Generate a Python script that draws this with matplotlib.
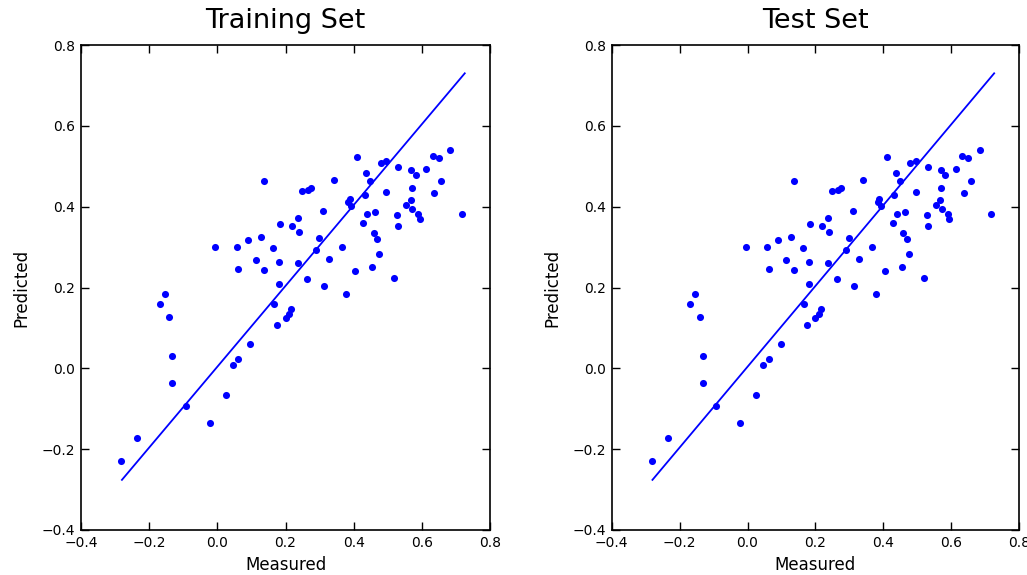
import matplotlib
matplotlib.use('Agg')
from matplotlib import pyplot as plt

# measured vs predicted values (same set shown in both panels)
measured = [0.136, 0.184, 0.219, -0.006, 0.057, 0.089, 0.128, 0.163, 0.112, 0.180,
            0.062, 0.136, 0.180, -0.155, -0.168, -0.141, 0.166, 0.176, 0.200, 0.210,
            0.216, 0.411, 0.479, 0.496, 0.531, 0.569, 0.582, 0.613, 0.632, 0.649,
            0.684, 0.436, 0.448, 0.341, 0.249, 0.266, 0.274, 0.496, 0.570, 0.657,
            0.637, 0.388, 0.384, 0.392, 0.432, 0.567, 0.554, 0.572, 0.589, 0.594,
            0.718, 0.310, 0.440, 0.464, 0.527, 0.531, 0.428, 0.238, 0.239, 0.298,
            0.290, 0.367, 0.459, 0.468, 0.475, 0.329, 0.238, 0.455, 0.405, 0.262,
            0.313, 0.519, 0.377, 0.097, 0.062, 0.046, -0.132, -0.132, -0.093, 0.025,
            -0.022, -0.235, -0.282]
predicted = [0.463, 0.356, 0.353, 0.300, 0.300, 0.317, 0.326, 0.297, 0.267, 0.263,
             0.246, 0.243, 0.209, 0.184, 0.160, 0.127, 0.160, 0.107, 0.125, 0.135,
             0.147, 0.523, 0.507, 0.512, 0.497, 0.490, 0.479, 0.493, 0.526, 0.520,
             0.540, 0.483, 0.463, 0.466, 0.439, 0.442, 0.447, 0.437, 0.446, 0.463,
             0.433, 0.420, 0.411, 0.401, 0.430, 0.416, 0.404, 0.394, 0.381, 0.370,
             0.383, 0.390, 0.383, 0.386, 0.380, 0.353, 0.360, 0.373, 0.337, 0.323,
             0.293, 0.300, 0.334, 0.319, 0.283, 0.270, 0.260, 0.250, 0.240, 0.220,
             0.204, 0.223, 0.184, 0.060, 0.023, 0.009, 0.030, -0.037, -0.093, -0.066,
             -0.136, -0.172, -0.229]

# identity line drawn over the measured range
line_x = [-0.28, 0.726]
line_y = [-0.276, 0.730]

titles = ['Training Set', 'Test Set']
ticks = [-0.4, -0.2, 0.0, 0.2, 0.4, 0.6, 0.8]
tick_labels = ['\u22120.4', '\u22120.2', '0.0', '0.2', '0.4', '0.6', '0.8']

fig = plt.figure(figsize=(10.27, 5.75), dpi=100)
fig.patch.set_facecolor('white')
positions = [[0.0789, 0.0783, 0.3982, 0.8434], [0.5956, 0.0783, 0.3969, 0.8434]]

for pos, title in zip(positions, titles):
    ax = fig.add_axes(pos)
    ax.scatter(measured, predicted, s=26, c='#0000ff', linewidths=0, zorder=3)
    ax.plot(line_x, line_y, color='#0000ff', linewidth=1.3, zorder=2)
    ax.set_xlim(-0.4, 0.8)
    ax.set_ylim(-0.4, 0.8)
    ax.set_xticks(ticks)
    ax.set_yticks(ticks)
    ax.set_xticklabels(tick_labels)
    ax.set_yticklabels(tick_labels)
    ax.tick_params(direction='in', top=True, right=True, length=6, width=1,
                   labelsize=10, pad=4)
    for sp in ax.spines.values():
        sp.set_linewidth(1.2)
    ax.set_title(title, fontsize=19.5, pad=12)
    ax.set_xlabel('Measured', fontsize=12, labelpad=5)
    ax.set_ylabel('Predicted', fontsize=12, labelpad=8)

plt.savefig('out.png', dpi=100)
